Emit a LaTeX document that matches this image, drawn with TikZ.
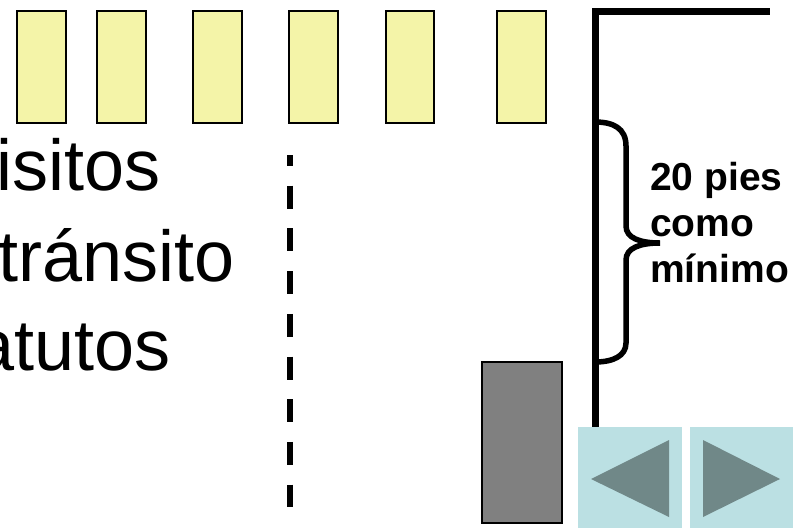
\documentclass[tikz,border=0pt]{standalone}
\usepackage{fontspec}
\setmainfont{Liberation Sans}
\definecolor{stallyellow}{HTML}{F4F4A8}
\definecolor{buttonblue}{HTML}{BBE0E3}
\definecolor{arrowgray}{HTML}{708888}
\tikzset{
    stall/.style={draw=black, line width=2pt, fill=stallyellow},
    bigtext/.style={inner sep=0pt, anchor=base west, font=\fontsize{72}{72}\selectfont},
    notetext/.style={inner sep=0pt, anchor=base west, font=\fontsize{39}{39}\selectfont\bfseries}
}

\begin{document}
\begin{tikzpicture}[x=1pt, y=-1pt]
    \useasboundingbox (0,0) rectangle (800,528);
    \foreach \xl/\xr in {17/66, 97/146, 193/242, 289/338, 386/434, 497/546}
        \draw [stall] (\xl,11) rectangle (\xr,123);
    \node [bigtext] (lineone) at (-4,190) {isitos};
    \node [bigtext] (linetwo) at (-2,281) {tránsito};
    \node [bigtext] (linethree) at (-26,370) {atutos};
    \draw [line width=6pt, dash pattern=on 23pt off 19.7pt, dash phase=12pt] (290,155) -- (290,507);
    \draw [line width=7pt, miter limit=10] (595,427) -- (595,11) -- (770,11);
    \draw [line width=5.5pt] (595,122) .. controls (613,122) and (626,128) .. (626,146)
        -- (626,226) .. controls (626,238) and (640,243) .. (660,243)
        .. controls (640,243) and (626,248) .. (626,260)
        -- (626,343) .. controls (626,356) and (613,362) .. (595,362);
    \node [notetext] (dist) at (650,190) {20 pies};
    \node [notetext] (como) at (650,236) {como};
    \node [notetext] (minimo) at (650,282) {mínimo};
    \draw [fill=gray, line width=2pt] (482,362) rectangle (562,523);
    \fill [buttonblue] (578,427) rectangle (682,528);
    \fill [buttonblue] (690,427) rectangle (793,528);
    \fill [arrowgray] (591,479) -- (669,440) -- (669,517) -- cycle;
    \fill [arrowgray] (703,440) -- (780,479) -- (703,517) -- cycle;
\end{tikzpicture}
\end{document}
